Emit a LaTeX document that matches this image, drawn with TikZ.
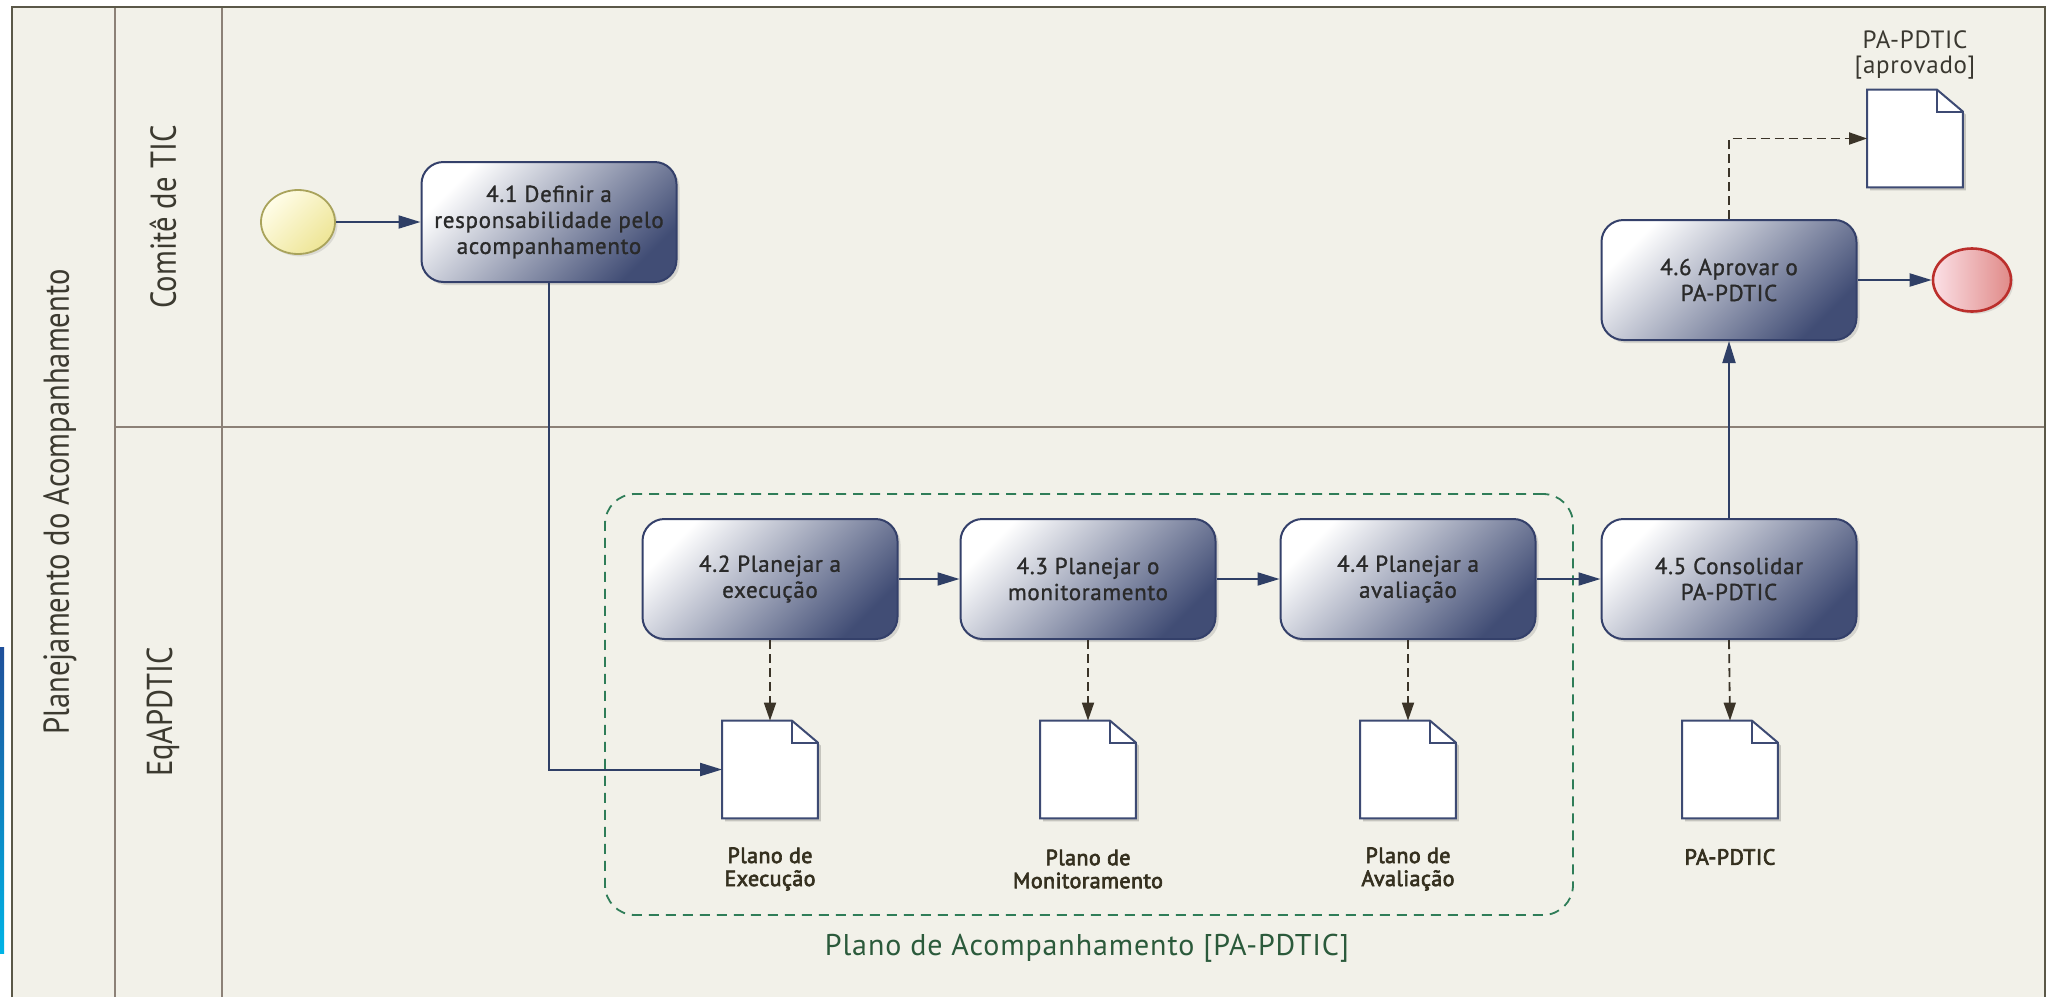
\documentclass[tikz,border=0pt]{standalone}
\usepackage{fontspec}
\setmainfont{PT Sans}[LetterSpace=3]
\newfontfamily\boxfont{PT Sans}[LetterSpace=3, FakeBold=1.2]
\newfontfamily\docfont{PT Sans}[LetterSpace=2, FakeBold=3]
\newfontfamily\lanefont{PT Sans}[FakeStretch=0.85]
\usepackage{tikz}
\usetikzlibrary{shapes.geometric}
\usetikzlibrary{arrows.meta}
\usetikzlibrary{shadows}
\definecolor{poolbg}{HTML}{F2F1E9}
\definecolor{poolline}{HTML}{5B5848}
\definecolor{laneline}{HTML}{8C8177}
\definecolor{lanetxt}{HTML}{3C3A30}
\definecolor{flowblue}{HTML}{2F3F66}
\definecolor{boxline}{HTML}{34406A}
\definecolor{boxdark}{HTML}{414D75}
\definecolor{boxtxt}{HTML}{2A2A2A}
\definecolor{docline}{HTML}{3D4A73}
\definecolor{dataline}{HTML}{3B3428}
\definecolor{doctxt}{HTML}{35301F}
\definecolor{aprtxt}{HTML}{3A3830}
\definecolor{startlight}{HTML}{FFFDE8}
\definecolor{startdark}{HTML}{EEE596}
\definecolor{startline}{HTML}{A9A35B}
\definecolor{endlight}{HTML}{FBE0E6}
\definecolor{enddark}{HTML}{E08A88}
\definecolor{endline}{HTML}{BB2F2C}
\definecolor{grpgreen}{HTML}{2F7D58}
\definecolor{grptxt}{HTML}{2B5A3B}
\definecolor{bartop}{HTML}{1F4F9A}
\definecolor{barbottom}{HTML}{00B4E6}
\tikzset{
    taskbox/.style = {rectangle, rounded corners=11pt, minimum width=127.5pt, minimum height=60pt, draw=boxline, line width=1pt, top color=white, bottom color=boxdark, shading angle=45, align=center, font=\boxfont\fontsize{11.5}{13}\selectfont, text=boxtxt, drop shadow={opacity=0.25, shadow xshift=1.5pt, shadow yshift=-1.5pt}},
    startev/.style = {ellipse, minimum width=37pt, minimum height=32pt, draw=startline, line width=0.9pt, top color=startlight, bottom color=startdark, shading angle=45, drop shadow={opacity=0.2, shadow xshift=1.2pt, shadow yshift=-1.2pt}},
    endev/.style = {ellipse, minimum width=39pt, minimum height=31.5pt, draw=endline, line width=1.3pt, left color=endlight, right color=enddark, drop shadow={opacity=0.2, shadow xshift=1.2pt, shadow yshift=-1.2pt}},
    docnode/.style = {rectangle, minimum width=47.5pt, minimum height=48.5pt, inner sep=0pt},
    docshape/.style = {draw=docline, line width=1pt, fill=white, line join=miter},
    doctext/.style = {align=center, font=\docfont\fontsize{11}{11.5}\selectfont, text=doctxt},
    aprtext/.style = {align=center, font=\fontsize{12.5}{12.5}\selectfont, text=aprtxt},
    lanetext/.style = {font=\lanefont\fontsize{18}{20}\selectfont, text=lanetxt},
    groupbox/.style = {rectangle, rounded corners=15pt, draw=grpgreen, line width=0.9pt, dash pattern=on 5pt off 3.5pt, minimum width=484pt, minimum height=210.5pt},
    grouptext/.style = {font=\fontsize{15}{17}\selectfont, text=grptxt},
    flow/.style = {-{Triangle[length=11pt,width=6.5pt]}, line width=1pt, flowblue},
    dataflow/.style = {-{Triangle[length=9pt,width=6pt]}, line width=0.9pt, dataline, dash pattern=on 4.5pt off 2.5pt},
}
\begin{document}
\begin{tikzpicture}[x=0.5pt,y=-0.5pt]
\useasboundingbox (0,0) rectangle (2047,997);
%
% pool and lanes
\fill[white] (0,0) rectangle (2047,997);
\fill[poolbg] (12,7) rectangle (2045,997);
\shade[top color=bartop, bottom color=barbottom] (0,647) rectangle (4,953);
\draw[laneline, line width=1pt] (115,7) -- (115,997);
\draw[laneline, line width=1pt] (222,7) -- (222,997);
\draw[laneline, line width=1pt] (115,427) -- (2045,427);
\draw[poolline, line width=1.2pt] (12,997) -- (12,7) -- (2045,7) -- (2045,997);
%
\node[lanetext, rotate=90] at (60, 502) (lpool) {Planejamento do Acompanhamento};
\node[lanetext, rotate=90] at (163, 217) (lcomite) {Comitê de TIC};
\node[lanetext, rotate=90] at (163, 712) (leq) {EqAPDTIC};
%
% group
\node[groupbox] at (1089, 704.5) (grp) {};
\node[grouptext] at (1087, 948) (lgrp) {Plano de Acompanhamento [PA-PDTIC]};
%
% events and tasks
\node[startev] at (298, 222) (start) {};
\node[taskbox] at (549, 222) (p41) {4.1 Definir a\\responsabilidade pelo\\acompanhamento};
\node[taskbox] at (770, 579) (p42) {4.2 Planejar a\\execução};
\node[taskbox] at (1088, 579) (p43) {4.3 Planejar o\\monitoramento};
\node[taskbox] at (1408, 579) (p44) {4.4 Planejar a\\avaliação};
\node[taskbox] at (1729, 579) (p45) {4.5 Consolidar\\PA-PDTIC};
\node[taskbox] at (1729, 280) (p46) {4.6 Aprovar o\\PA-PDTIC};
\node[endev] at (1972, 280) (stop) {};
%
% documents
\node[docnode] at (770, 769.5) (dexe) {};
\node[docnode] at (1088, 769.5) (dmon) {};
\node[docnode] at (1408, 769.5) (daval) {};
\node[docnode] at (1730, 769.5) (dpa) {};
\node[docnode] at (1915, 138.5) (dapr) {};
\foreach \d in {dexe,dmon,daval,dpa,dapr}{
    \fill[black, opacity=0.18] ([xshift=1.5pt,yshift=-1.5pt]\d.south west) -- ([xshift=1.5pt,yshift=-1.5pt]\d.north west) -- ([xshift=-11.5pt,yshift=-1.5pt]\d.north east) -- ([xshift=1.5pt,yshift=-12.5pt]\d.north east) -- ([xshift=1.5pt,yshift=-1.5pt]\d.south east) -- cycle;
    \draw[docshape] (\d.south west) -- (\d.north west) -- ([xshift=-13pt]\d.north east) -- ([yshift=-11pt]\d.north east) -- (\d.south east) -- cycle;
    \draw[docshape, fill=none] ([xshift=-13pt]\d.north east) |- ([yshift=-11pt]\d.north east);
}
%
\node[doctext] at (770, 869) (lexe) {Plano de\\Execução};
\node[doctext] at (1088, 869) (lmon) {Plano de\\Monitoramento};
\node[doctext] at (1408, 869) (laval) {Plano de\\Avaliação};
\node[doctext] at (1730, 857) (lpa) {PA-PDTIC};
\node[aprtext] at (1915, 55) (lapr) {PA-PDTIC\\{}[aprovado]};
%
% sequence flows
\draw[flow] (start) edge (p41);
\draw[flow] (p41.south) |- (dexe.west);
\draw[flow] (p42) edge (p43);
\draw[flow] (p43) edge (p44);
\draw[flow] (p44) edge (p45);
\draw[flow] (p45.north) -- (p46.south);
\draw[flow] (p46) edge (stop);
%
% data associations
\draw[dataflow] (p42.south) -- (dexe.north);
\draw[dataflow] (p43.south) -- (dmon.north);
\draw[dataflow] (p44.south) -- (daval.north);
\draw[dataflow] (p45.south) -- (dpa.north);
\draw[dataflow] (p46.north) |- (dapr.west);
\end{tikzpicture}
\end{document}
